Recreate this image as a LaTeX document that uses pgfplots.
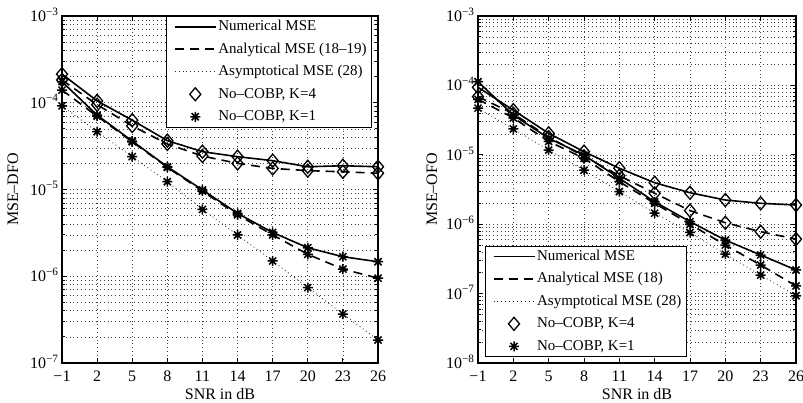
\documentclass[border=0pt]{standalone}
\usepackage{fontspec}
\setmainfont{Liberation Serif}
\usepackage{pgfplots}
\pgfplotsset{compat=1.18}

% open diamond and eight-spoke asterisk markers
\pgfdeclareplotmark{mdiamond}{%
  \pgfpathmoveto{\pgfqpoint{0pt}{\pgfplotmarksize}}%
  \pgfpathlineto{\pgfqpoint{0.85\pgfplotmarksize}{0pt}}%
  \pgfpathlineto{\pgfqpoint{0pt}{-\pgfplotmarksize}}%
  \pgfpathlineto{\pgfqpoint{-0.85\pgfplotmarksize}{0pt}}%
  \pgfpathclose\pgfusepathqstroke}
\pgfdeclareplotmark{mstar}{%
  \pgfpathmoveto{\pgfqpoint{-\pgfplotmarksize}{0pt}}\pgfpathlineto{\pgfqpoint{\pgfplotmarksize}{0pt}}%
  \pgfpathmoveto{\pgfqpoint{0pt}{-\pgfplotmarksize}}\pgfpathlineto{\pgfqpoint{0pt}{\pgfplotmarksize}}%
  \pgfpathmoveto{\pgfqpoint{-0.707\pgfplotmarksize}{-0.707\pgfplotmarksize}}\pgfpathlineto{\pgfqpoint{0.707\pgfplotmarksize}{0.707\pgfplotmarksize}}%
  \pgfpathmoveto{\pgfqpoint{-0.707\pgfplotmarksize}{0.707\pgfplotmarksize}}\pgfpathlineto{\pgfqpoint{0.707\pgfplotmarksize}{-0.707\pgfplotmarksize}}%
  \pgfusepathqstroke}

\pgfplotsset{
  numline/.style={black, solid, line width=1.6pt},
  analine/.style={black, line width=1.6pt, dash pattern=on 9pt off 6pt},
  asyline/.style={black!85, line width=0.8pt, dash pattern=on 0.9pt off 3pt},
  dmark/.style={mark=mdiamond, mark size=6.5pt, mark options={solid, black, line width=1.3pt}},
  smark/.style={mark=mstar, mark size=5pt, mark options={solid, black, line width=1.5pt}},
  msebase/.style={
    scale only axis, clip=false,
    xmin=-1, xmax=26,
    xtick={-1,2,5,8,11,14,17,20,23,26},
    xticklabels={−1,2,5,8,11,14,17,20,23,26},
    tick align=inside, major tick length=5pt, minor tick length=3pt,
    every tick/.append style={black, line width=0.8pt},
    axis line style={line width=1.5pt},
    grid=both,
    major grid style={black!75, line width=0.6pt, dash pattern=on 0.6pt off 3.2pt},
    minor grid style={black!75, line width=0.6pt, dash pattern=on 0.6pt off 3.2pt},
    tick label style={font=\fontsize{16}{19}\selectfont},
    xticklabel style={anchor=base, yshift=-18.5pt},
    yticklabel style={anchor=base east, yshift=-5.5pt},
    xlabel={SNR in dB},
    xlabel style={at={(axis description cs:0.5,0)}, anchor=base, yshift=-36pt, font=\fontsize{16}{19}\selectfont},
    label style={font=\fontsize{16}{19}\selectfont},
    legend image code/.code={%
      \path[draw=none] (0pt,0pt) -- (5pt,0pt);
      \draw[mark repeat=2, mark phase=2, ##1] plot coordinates {(5pt,0pt) (25.5pt,0pt) (46pt,0pt)};},
    legend cell align=left,
    legend style={draw=black, line width=1pt, fill=white,
      font=\fontsize{15}{18}\selectfont,
      inner xsep=3pt, inner ysep=3pt, row sep=8pt, column sep=0pt,
      nodes={inner xsep=1.8pt, inner ysep=0pt, text height=11pt, text depth=3.5pt}},
  },
}

\begin{document}
\begin{tikzpicture}
\useasboundingbox (0,0) rectangle (803pt,402pt);

% ---------------- DFO ----------------
\begin{axis}[ymode=log, msebase,
  at={(62pt,39pt)}, anchor=south west, width=316pt, height=347pt,
  ymin=1e-7, ymax=1e-3,
  ytick={1e-7,1e-6,1e-5,1e-4,1e-3},
  yticklabels={10\textsuperscript{−7},10\textsuperscript{−6},10\textsuperscript{−5},10\textsuperscript{−4},10\textsuperscript{−3}},
  minor ytick={2e-7,3e-7,4e-7,5e-7,6e-7,7e-7,8e-7,9e-7,2e-6,3e-6,4e-6,5e-6,6e-6,7e-6,8e-6,9e-6,2e-5,3e-5,4e-5,5e-5,6e-5,7e-5,8e-5,9e-5,2e-4,3e-4,4e-4,5e-4,6e-4,7e-4,8e-4,9e-4},
  ylabel={MSE–DFO},
  ylabel style={at={(axis description cs:-0.155,0.5)}, anchor=center},
  legend style={at={(0.981,1.0)}, anchor=north east},
]
\addlegendimage{numline}\addlegendentry{Numerical MSE}
\addlegendimage{analine}\addlegendentry{Analytical MSE (18–19)}
\addlegendimage{asyline}\addlegendentry{Asymptotical MSE (28)}
\addlegendimage{only marks, dmark}\addlegendentry{No–COBP, K=4}
\addlegendimage{only marks, smark}\addlegendentry{No–COBP, K=1}

% K=4
\addplot[numline, dmark, forget plot] coordinates {
  (-1,2.14e-4) (2,1.05e-4) (5,6.3e-5) (8,3.66e-5) (11,2.73e-5)
  (14,2.39e-5) (17,2.15e-5) (20,1.83e-5) (23,1.88e-5) (26,1.83e-5)};
\addplot[analine, dmark, forget plot] coordinates {
  (-1,1.83e-4) (2,9.5e-5) (5,5.4e-5) (8,3.35e-5) (11,2.43e-5)
  (14,2.0e-5) (17,1.75e-5) (20,1.65e-5) (23,1.6e-5) (26,1.54e-5)};
% K=1
\addplot[numline, smark, forget plot] coordinates {
  (-1,1.75e-4) (2,7.2e-5) (5,3.62e-5) (8,1.83e-5) (11,9.9e-6)
  (14,5.3e-6) (17,3.2e-6) (20,2.13e-6) (23,1.68e-6) (26,1.47e-6)};
\addplot[analine, smark, forget plot] coordinates {
  (-1,1.4e-4) (2,7.0e-5) (5,3.55e-5) (8,1.8e-5) (11,9.6e-6)
  (14,5.1e-6) (17,3.0e-6) (20,1.79e-6) (23,1.21e-6) (26,9.5e-7)};
\addplot[asyline, smark, forget plot] coordinates {
  (-1,9.2e-5) (2,4.64e-5) (5,2.39e-5) (8,1.23e-5) (11,5.9e-6)
  (14,2.99e-6) (17,1.5e-6) (20,7.4e-7) (23,3.67e-7) (26,1.84e-7)};
\end{axis}

% ---------------- OFO ----------------
\begin{axis}[ymode=log, msebase,
  at={(478pt,39pt)}, anchor=south west, width=318pt, height=347pt,
  ymin=1e-8, ymax=1e-3,
  ytick={1e-8,1e-7,1e-6,1e-5,1e-4,1e-3},
  yticklabels={10\textsuperscript{−8},10\textsuperscript{−7},10\textsuperscript{−6},10\textsuperscript{−5},10\textsuperscript{−4},10\textsuperscript{−3}},
  minor ytick={2e-8,3e-8,4e-8,5e-8,6e-8,7e-8,8e-8,9e-8,2e-7,3e-7,4e-7,5e-7,6e-7,7e-7,8e-7,9e-7,2e-6,3e-6,4e-6,5e-6,6e-6,7e-6,8e-6,9e-6,2e-5,3e-5,4e-5,5e-5,6e-5,7e-5,8e-5,9e-5,2e-4,3e-4,4e-4,5e-4,6e-4,7e-4,8e-4,9e-4},
  ylabel={MSE–OFO},
  ylabel style={at={(axis description cs:-0.145,0.5)}, anchor=center},
  legend style={at={(0.022,0.017)}, anchor=south west},
]
\addlegendimage{numline}\addlegendentry{Numerical MSE}
\addlegendimage{analine}\addlegendentry{Analytical MSE (18)}
\addlegendimage{asyline}\addlegendentry{Asymptotical MSE (28)}
\addlegendimage{only marks, dmark}\addlegendentry{No–COBP, K=4}
\addlegendimage{only marks, smark}\addlegendentry{No–COBP, K=1}

% K=4
\addplot[numline, dmark, forget plot] coordinates {
  (-1,9.4e-5) (2,4.4e-5) (5,2.04e-5) (8,1.11e-5) (11,6.4e-6)
  (14,3.96e-6) (17,2.84e-6) (20,2.23e-6) (23,2.0e-6) (26,1.89e-6)};
\addplot[analine, dmark, forget plot] coordinates {
  (-1,6.9e-5) (2,3.9e-5) (5,1.8e-5) (8,9.5e-6) (11,5.0e-6)
  (14,2.79e-6) (17,1.57e-6) (20,1.05e-6) (23,7.8e-7) (26,6.1e-7)};
% K=1
\addplot[numline, smark, forget plot] coordinates {
  (-1,1.13e-4) (2,3.74e-5) (5,1.73e-5) (8,9.9e-6) (11,4.6e-6)
  (14,2.1e-6) (17,1.09e-6) (20,5.9e-7) (23,3.6e-7) (26,2.19e-7)};
\addplot[analine, smark, forget plot] coordinates {
  (-1,6.3e-5) (2,3.4e-5) (5,1.56e-5) (8,8.9e-6) (11,4.1e-6)
  (14,2.0e-6) (17,1.0e-6) (20,5.0e-7) (23,2.58e-7) (26,1.29e-7)};
\addplot[asyline, smark, forget plot] coordinates {
  (-1,4.7e-5) (2,2.36e-5) (5,1.17e-5) (8,6.0e-6) (11,2.95e-6)
  (14,1.44e-6) (17,7.6e-7) (20,3.7e-7) (23,1.85e-7) (26,9.3e-8)};
\end{axis}
\end{tikzpicture}
\end{document}
